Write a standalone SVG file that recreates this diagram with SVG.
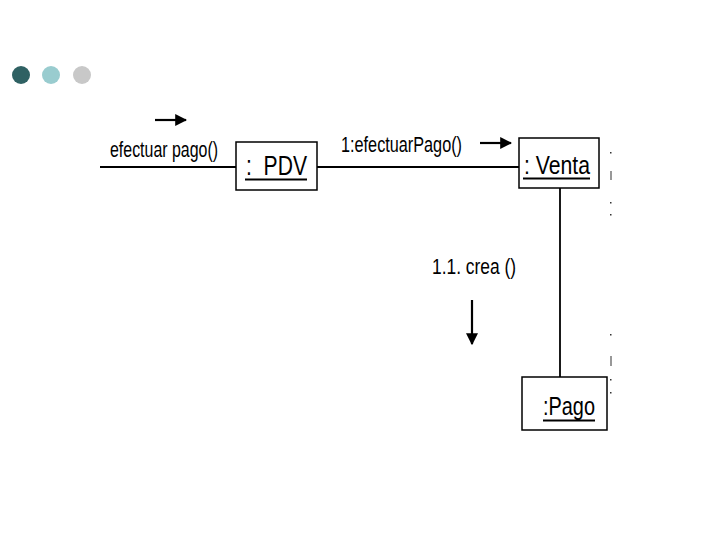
<svg xmlns="http://www.w3.org/2000/svg" width="720" height="540" viewBox="0 0 720 540">
<style>
.box{fill:#fff;stroke:#000;stroke-width:1.5}
.ln{stroke:#000;stroke-width:1.8;fill:none}
.ar{stroke:#000;stroke-width:2.2;fill:none}
.t{font-family:"Liberation Sans Narrow","Liberation Sans",Arial,sans-serif;fill:#000}
.lbl{font-size:22px}
.nt{font-size:25px}
.ul{stroke:#000;stroke-width:1.8}
.mk{fill:#333}
</style>
<defs>
<marker id="ah" viewBox="0 0 10 10" refX="9" refY="5" markerWidth="12" markerHeight="12" markerUnits="userSpaceOnUse" orient="auto">
<path d="M0,0 L10,5 L0,10 z" fill="#000"/>
</marker>
</defs>
<rect width="720" height="540" fill="#fff"/>
<g id="dots">
<circle cx="21" cy="75" r="9" fill="#2f6163"/>
<circle cx="51" cy="75" r="9" fill="#99cccf"/>
<circle cx="82" cy="75" r="9" fill="#c8c8c8"/>
</g>
<g id="connectors">
<line class="ln" x1="100" y1="167" x2="236" y2="167"/>
<line class="ln" x1="317" y1="167" x2="519" y2="167"/>
<line class="ln" x1="560" y1="188" x2="560" y2="377"/>
<line class="ar" x1="155" y1="120" x2="186" y2="120" marker-end="url(#ah)"/>
<line class="ar" x1="480" y1="143" x2="511" y2="143" marker-end="url(#ah)"/>
<line class="ar" x1="472" y1="300" x2="472" y2="344" marker-end="url(#ah)"/>
<text class="t lbl" x="110" y="157" textLength="108" lengthAdjust="spacingAndGlyphs">efectuar pago()</text>
<text class="t lbl" x="341" y="152" textLength="121" lengthAdjust="spacingAndGlyphs">1:efectuarPago()</text>
<text class="t lbl" x="432" y="274" textLength="84" lengthAdjust="spacingAndGlyphs">1.1. crea ()</text>
</g>
<g id="PDV">
<rect class="box" x="236" y="142" width="81" height="48"/>
<text class="t nt" x="246" y="175" textLength="61" lengthAdjust="spacingAndGlyphs" style="font-size:27px;white-space:pre" xml:space="preserve">:  PDV</text>
<line class="ul" x1="245" y1="179.5" x2="307" y2="179.5"/>
</g>
<g id="Venta">
<rect class="box" x="519" y="138" width="80" height="50"/>
<text class="t nt" x="524" y="174" textLength="66" lengthAdjust="spacingAndGlyphs">: Venta</text>
<line class="ul" x1="523" y1="178.5" x2="590" y2="178.5"/>
</g>
<g id="Pago">
<rect class="box" x="522" y="377" width="85" height="53"/>
<text class="t nt" x="543" y="415" textLength="52" lengthAdjust="spacingAndGlyphs">:Pago</text>
<line class="ul" x1="543" y1="420.5" x2="595" y2="420.5"/>
</g>
<g id="marks">
<rect class="mk" x="610" y="152" width="1.5" height="1.5"/>
<rect class="mk" x="610.5" y="171" width="1" height="9"/>
<rect class="mk" x="610" y="202" width="1.5" height="1.5"/>
<rect class="mk" x="610" y="214" width="1.5" height="1.5"/>
<rect class="mk" x="610" y="334" width="1.5" height="1.5"/>
<rect class="mk" x="610.5" y="356" width="1" height="10"/>
<rect class="mk" x="610" y="379" width="1.5" height="1.5"/>
<rect class="mk" x="610" y="392" width="1.5" height="1.5"/>
</g>
</svg>
